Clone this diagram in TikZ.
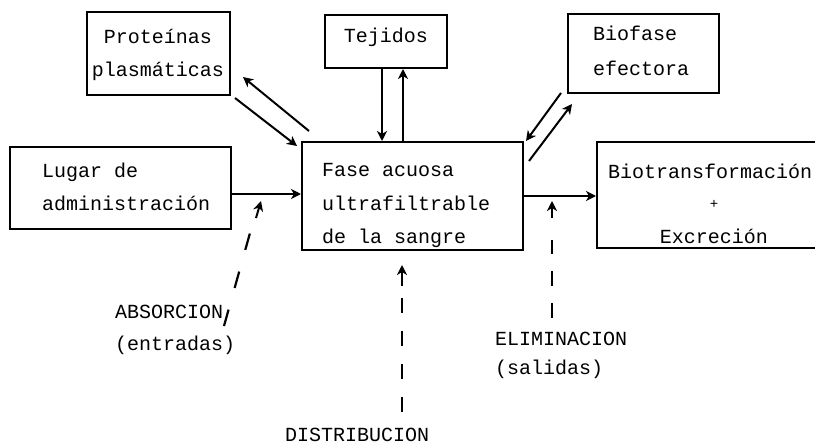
\documentclass[tikz,border=0pt]{standalone}
\usepackage{fontspec}
\newfontfamily\dotfont{Liberation Mono}
\usetikzlibrary{arrows.meta}
\begin{document}
\begin{tikzpicture}[x=1pt,y=-1pt,
  box/.style={draw, line width=2pt, inner sep=0pt, rectangle},
  lbl/.style={font=\dotfont\fontsize{20}{24}\selectfont, inner sep=0pt},
  arr/.style={line width=2pt, -{Stealth[length=10pt,width=10pt,inset=3pt]}},
  dsh/.style={line width=2.2pt}]
\clip (0,0) rectangle (815,447);
\fill[white] (0,0) rectangle (815,447);

% boxes
\node[box, minimum width=143pt, minimum height=83pt]  (prot) at (158.5,53.5) {};
\node[box, minimum width=122pt, minimum height=53pt]  (tej)  at (386,41.5) {};
\node[box, minimum width=151pt, minimum height=79pt]  (bio)  at (643.5,53.5) {};
\node[box, minimum width=221pt, minimum height=82pt]  (lug)  at (120.5,188) {};
\node[box, minimum width=221pt, minimum height=108pt] (fase) at (412.5,196) {};
\node[box, minimum width=240pt, minimum height=106pt] (bt)   at (717,195) {};

% texts
\node[lbl, anchor=base] (tprot1) at (158,43) {Proteínas};
\node[lbl, anchor=base] (tprot2) at (158,76) {plasmáticas};
\node[lbl, anchor=base] (ttej) at (386,42) {Tejidos};
\node[lbl, anchor=base west] (tbio1) at (593,40) {Biofase};
\node[lbl, anchor=base west] (tbio2) at (593,75) {efectora};
\node[lbl, anchor=base west] (tlug1) at (42,177) {Lugar de};
\node[lbl, anchor=base west] (tlug2) at (42,210) {administración};
\node[lbl, anchor=base west] (tf1) at (322,176) {Fase acuosa};
\node[lbl, anchor=base west] (tf2) at (322,210) {ultrafiltrable};
\node[lbl, anchor=base west] (tf3) at (322,243) {de la sangre};
\node[lbl, anchor=base west] (tbt1) at (608,178) {Biotransformación};
\node[lbl, anchor=base, font=\dotfont\fontsize{14}{16}\selectfont] (tbt2) at (714,208) {+};
\node[lbl, anchor=base] (tbt3) at (714,243) {Excreción};
\node[lbl, anchor=base west] (tabs1) at (115,318) {ABSORCION};
\node[lbl, anchor=base west] (tabs2) at (115,350) {(entradas)};
\node[lbl, anchor=base west] (telim1) at (495,345) {ELIMINACION};
\node[lbl, anchor=base west] (telim2) at (495,374) {(salidas)};
\node[lbl, anchor=base west] (tdist) at (285,441) {DISTRIBUCION};

% main flow
\coordinate (l1) at ([yshift=-6pt]lug.east);
\draw[arr] (l1) -- (l1 -| fase.west);
\draw[arr] (fase.east) -- (fase.east -| bt.west);

% proteinas
\draw[arr] ([shift={(8pt,10pt)}]fase.north west) -- ([shift={(12pt,19pt)}]prot.south east);
\draw[arr] ([shift={(4pt,-2pt)}]prot.south east) -- ([shift={(-4pt,-5pt)}]fase.north west);

% tejidos
\coordinate (t1) at ([xshift=-4pt]tej.south);
\coordinate (t2) at ([xshift=17pt]tej.south);
\draw[arr] (t1) -- (t1 |- fase.north);
\draw[arr] (t2 |- fase.north) -- (t2);

% biofase
\draw[arr] ([shift={(-6pt,1pt)}]bio.south west) -- ([shift={(2pt,0pt)}]fase.north east);
\draw[arr] ([shift={(5pt,-20pt)}]fase.north east) -- ([shift={(5pt,-10pt)}]bio.south west);

% dashed arrows
\coordinate (a0) at (224,326); \coordinate (a1) at (250,233);
\coordinate (a2) at (256,218); \coordinate (a3) at (261,201);
\draw[dsh, dash pattern=on 17pt off 22.5pt] (a0) -- (a1);
\draw[arr] (a2) -- (a3);

\coordinate (d0) at (402,412); \coordinate (d1) at (402,298);
\coordinate (d2) at (402,286); \coordinate (d3) at (402,265);
\draw[dsh, dash pattern=on 15pt off 18pt] (d0) -- (d1);
\draw[arr] (d2) -- (d3);

\coordinate (e0) at (552,318); \coordinate (e1) at (552,240);
\coordinate (e2) at (552,218); \coordinate (e3) at (552,201);
\draw[dsh, dash pattern=on 15pt off 17pt] (e0) -- (e1);
\draw[arr] (e2) -- (e3);
\end{tikzpicture}
\end{document}
